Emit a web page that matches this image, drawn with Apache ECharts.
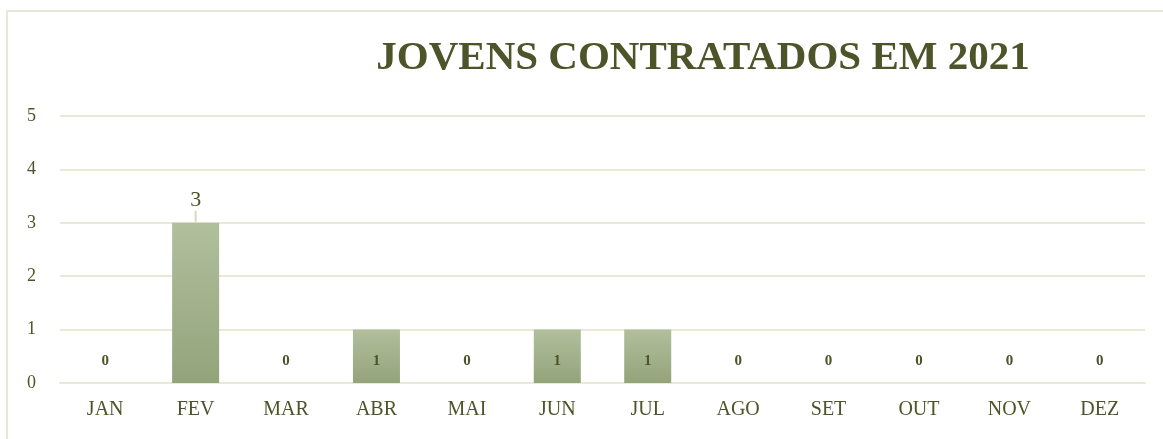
<!DOCTYPE html>
<html lang="pt">
<head>
    <meta charset="utf-8">
    <title>Jovens contratados em 2021</title>
    <script src="https://cdn.jsdelivr.net/npm/echarts@6/dist/echarts.min.js"></script>
    <style>
        html, body { margin: 0; padding: 0; background: #fff; }
    </style>
</head>
<body>

<div id="main" style="width: 1163px;height:439px;"></div>

<script>
    // dados do gráfico
    var meses = ['JAN', 'FEV', 'MAR', 'ABR', 'MAI', 'JUN', 'JUL', 'AGO', 'SET', 'OUT', 'NOV', 'DEZ'];
    var contratados = [0, 3, 0, 1, 0, 1, 1, 0, 0, 0, 0, 0];
    var yTicks = [0, 1, 2, 3, 4, 5];

    var corTexto = '#4d5429';
    var corGrade = '#e8ead6';
    var fonte = '"Liberation Serif", "DejaVu Serif", serif';

    var myChart = echarts.init(document.getElementById('main'));

    // barras: rótulo grande com linha de chamada quando > 1, senão rótulo pequeno embaixo
    var dados = contratados.map(function (v) {
        if (v > 1) {
            return {
                value: v,
                label: {
                    position: 'top',
                    distance: 1,
                    fontWeight: 'normal',
                    formatter: '{n|{c}}\n{l|}',
                    rich: {
                        n: { fontSize: 22, fontWeight: 'normal', color: corTexto, fontFamily: fonte, lineHeight: 22 },
                        l: { width: 2, height: 11, backgroundColor: '#d6dab8' }
                    }
                }
            };
        }
        return v;
    });

    var option = {
        animation: false,
        textStyle: { fontFamily: fonte },
        title: {
            text: 'JOVENS CONTRATADOS EM 2021',
            left: 698,
            top: 33,
            textAlign: 'center',
            textStyle: {
                fontFamily: fonte,
                fontSize: 41,
                fontWeight: 'bold',
                color: corTexto
            }
        },
        graphic: [{
            type: 'rect',
            shape: { x: 7, y: 11, width: 1200, height: 500 },
            style: { fill: 'none', stroke: '#e6e9d4', lineWidth: 2 },
            silent: true
        }],
        grid: { left: 60, right: 18, top: 116, bottom: 56 },
        xAxis: {
            type: 'category',
            data: meses,
            axisTick: { show: false },
            axisLine: { show: true, lineStyle: { color: corGrade, width: 2 } },
            axisLabel: { color: corTexto, fontSize: 20, margin: 17, fontFamily: fonte }
        },
        yAxis: {
            type: 'value',
            min: yTicks[0],
            max: yTicks[yTicks.length - 1],
            interval: 1,
            axisLine: { show: false },
            axisTick: { show: false },
            splitLine: { lineStyle: { color: corGrade, width: 2 } },
            axisLabel: { color: corTexto, fontSize: 18, margin: 24, fontFamily: fonte }
        },
        series: [{
            name: 'Jovens',
            type: 'bar',
            data: dados,
            barWidth: '52%',
            itemStyle: {
                color: new echarts.graphic.LinearGradient(0, 0, 0, 1, [
                    { offset: 0, color: '#b1bf9d' },
                    { offset: 1, color: '#93a47b' }
                ])
            },
            label: {
                show: true,
                position: 'insideBottom',
                distance: 14,
                color: corTexto,
                fontSize: 15,
                fontWeight: 'bold',
                fontFamily: fonte
            }
        }]
    };

    myChart.setOption(option);
</script>
</body>
</html>
